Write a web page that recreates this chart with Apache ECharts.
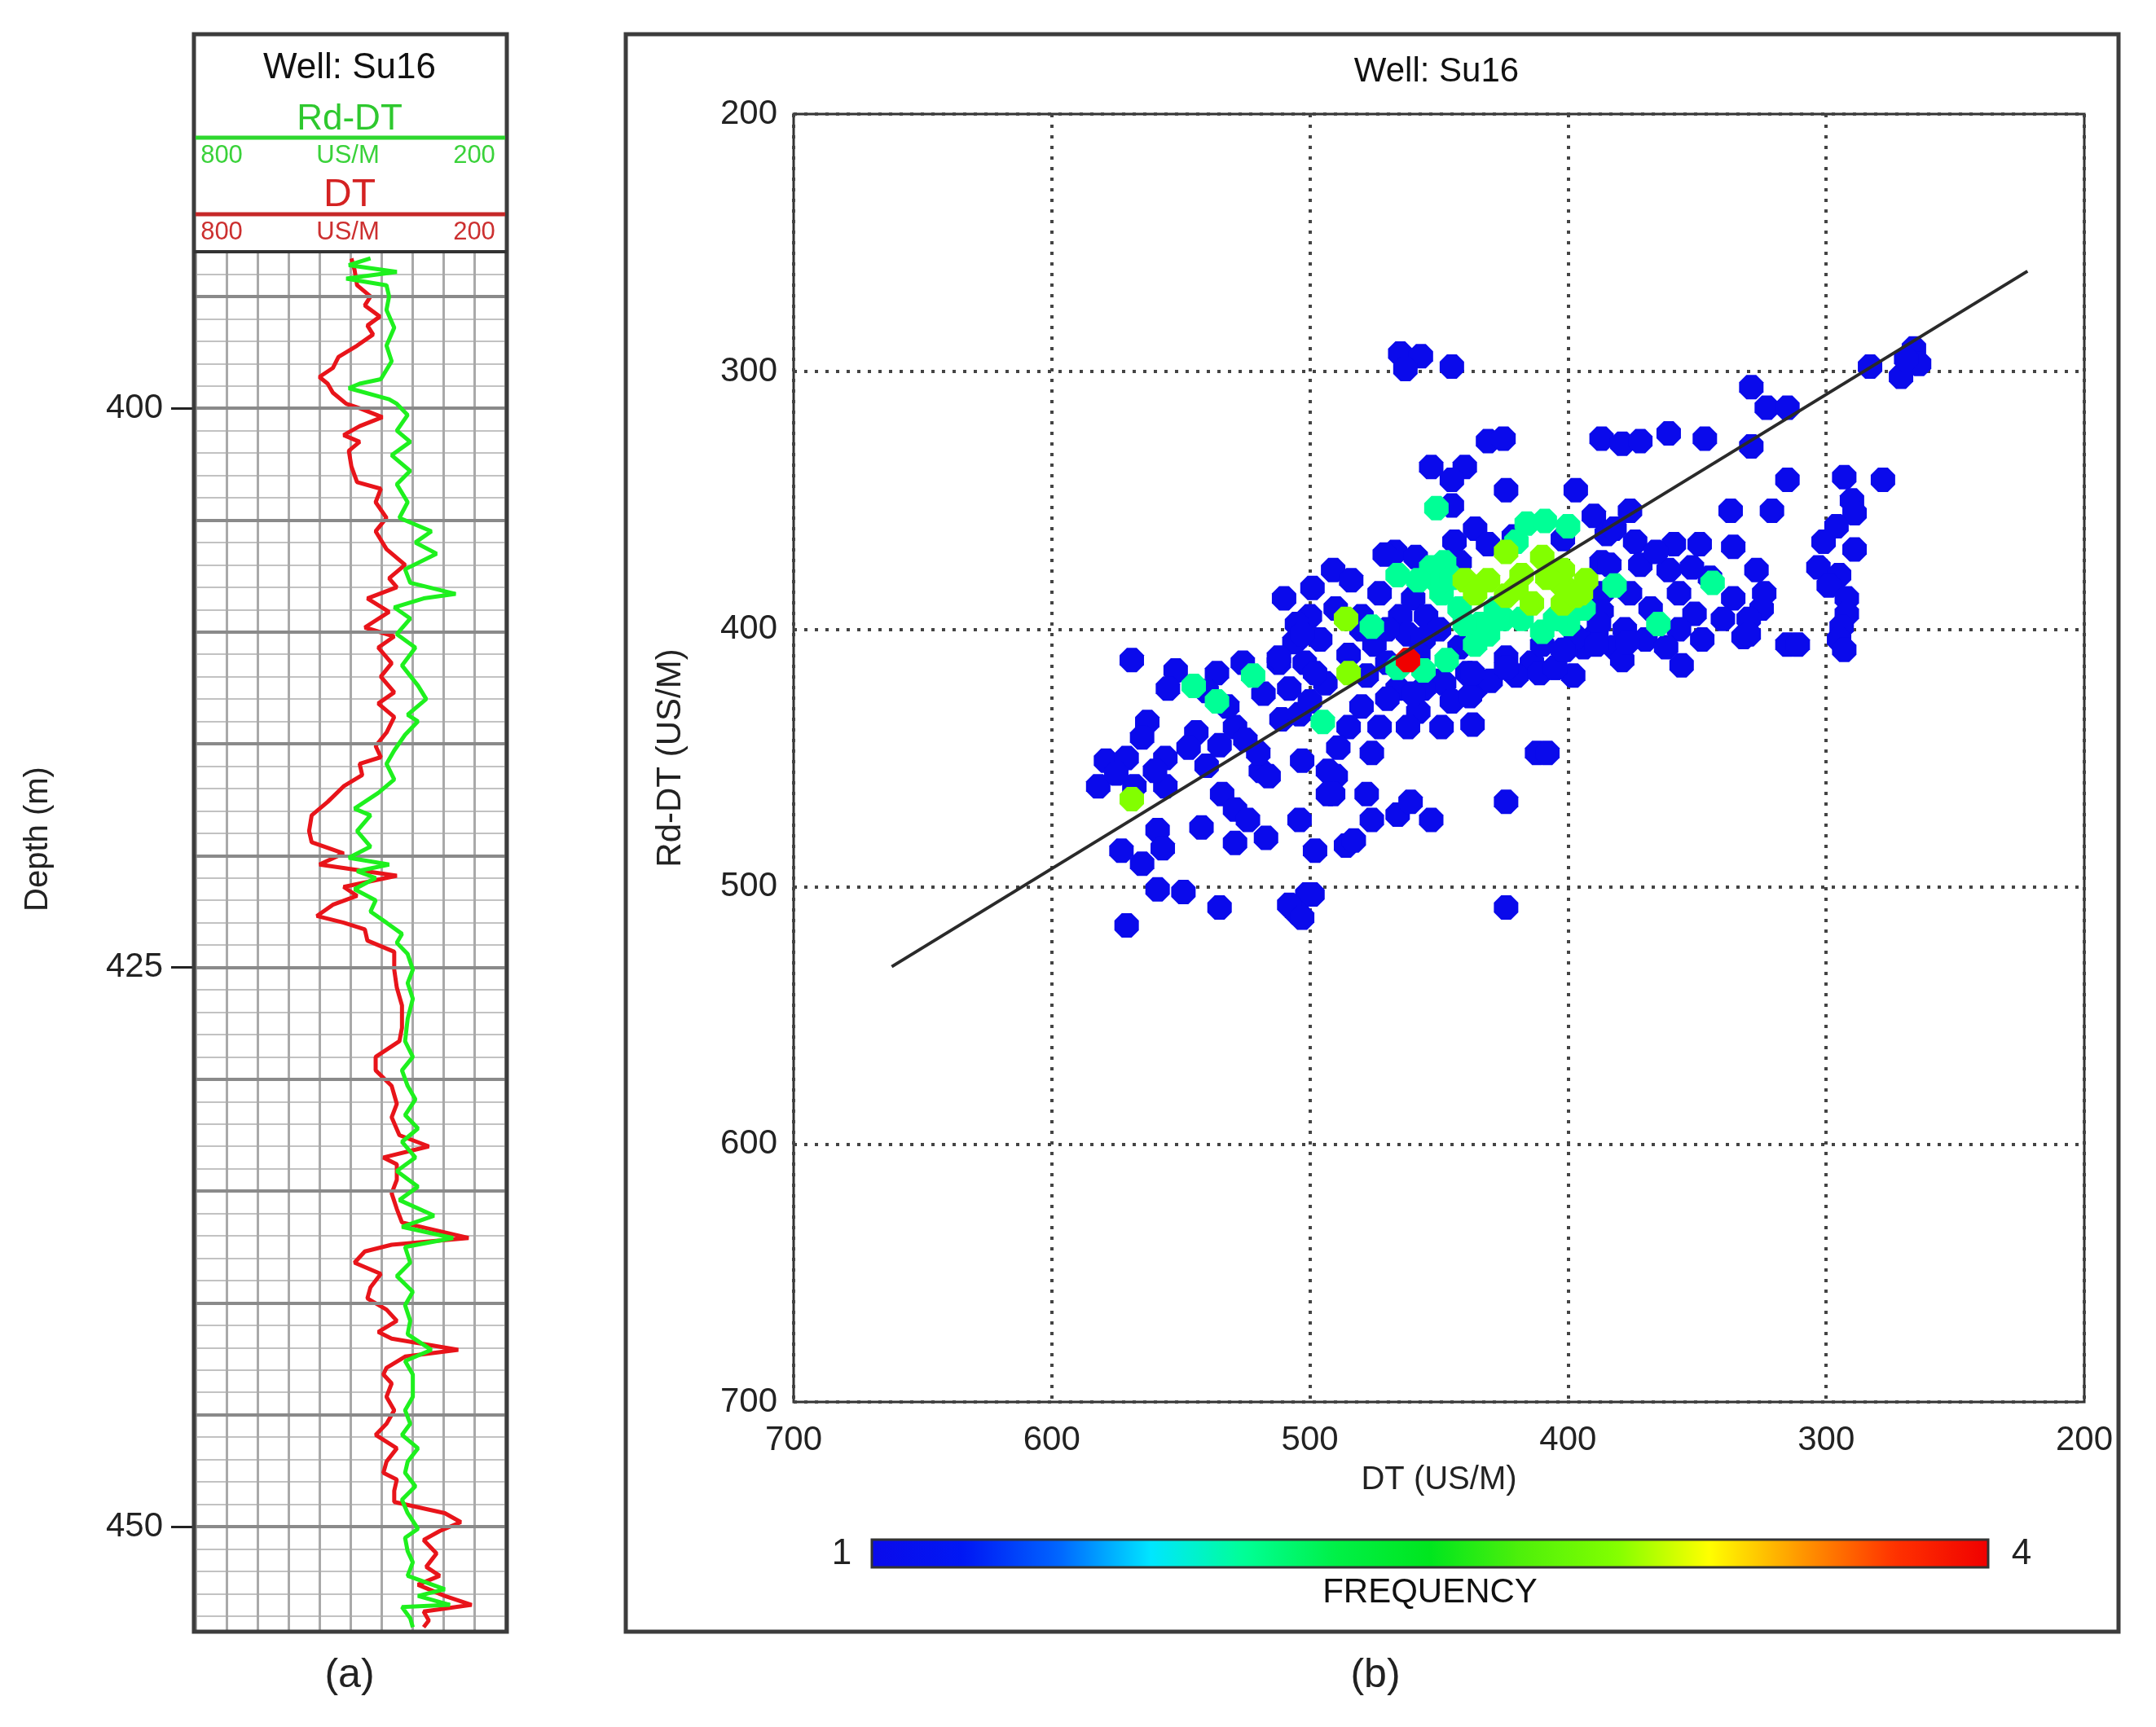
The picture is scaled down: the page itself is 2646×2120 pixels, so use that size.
<!DOCTYPE html>
<html>
<head>
<meta charset="utf-8">
<title>Well Su16 - DT vs Rd-DT</title>
<script src="https://cdn.jsdelivr.net/npm/echarts@6/dist/echarts.min.js"></script>
<style>
  html, body { margin: 0; padding: 0; background: #fff; }
  #main { width: 2646px; height: 2120px; }
</style>
</head>
<body>
<div id="main"></div>
<script>
// ---- (a) log track: depth (m) and slowness (US/M) ----
var dtDepth = [393.3,393.8,394.5,395.0,395.4,395.9,396.3,396.7,397.2,397.7,
  398.2,398.6,398.9,399.3,399.8,400.0,400.4,400.8,401.2,401.5,
  401.9,402.6,403.3,403.6,404.2,404.9,405.5,406.3,407.0,407.6,
  408.0,408.5,409.1,409.8,410.2,410.7,411.4,412.0,412.7,413.2,
  413.8,414.5,415.1,415.6,415.9,416.4,416.9,417.6,418.2,418.9,
  419.4,419.9,420.4,420.9,421.4,421.8,422.2,422.7,423.0,423.3,
  423.8,424.3,425.1,425.9,426.7,427.7,428.3,429.0,429.6,430.3,
  431.1,431.7,432.5,433.0,433.5,433.8,434.5,435.1,435.8,436.4,
  437.1,437.4,437.7,438.2,438.7,439.3,439.8,440.3,440.8,441.3,
  441.6,442.1,442.4,442.9,443.2,443.6,444.2,444.8,445.4,445.9,
  446.5,447.1,447.6,447.9,448.4,448.9,449.4,449.8,450.2,450.6,
  451.2,451.8,452.2,452.6,453.1,453.5,453.8,454.2,454.5];
var dtValue = [498,492,487,461,472,443,467,456,487,523,
  534,560,544,534,508,482,438,482,513,482,
  503,498,487,441,451,430,451,430,394,425,
  410,467,425,472,415,446,420,441,415,446,
  415,430,451,441,482,477,513,544,575,580,
  575,513,560,410,513,487,534,565,513,472,
  467,415,415,410,400,400,405,451,451,420,
  410,420,405,348,436,410,410,420,410,400,
  271,420,472,492,441,461,467,430,410,446,
  420,291,394,430,436,420,430,415,430,451,
  410,430,436,410,415,415,317,286,327,358,
  333,353,327,369,317,265,358,348,358];

var rdDepth = [393.3,393.6,393.9,394.2,394.5,395.0,395.6,396.4,397.2,397.9,
  398.7,398.9,399.1,399.6,399.8,400.3,401.0,401.5,402.1,402.8,
  403.4,404.2,404.9,405.5,406.0,406.5,407.2,407.8,408.3,408.5,
  408.9,409.4,410.1,410.7,411.5,412.4,413.0,413.7,414.0,414.6,
  415.3,415.9,416.6,417.2,417.9,418.2,418.9,419.6,420.1,420.4,
  420.7,421.0,421.5,422.0,422.5,423.0,423.5,423.9,424.4,425.1,
  425.7,426.4,427.3,428.3,429.0,429.6,430.3,430.9,431.6,432.2,
  432.8,433.5,434.1,434.8,435.4,436.1,436.6,437.1,437.5,438.2,
  438.8,439.5,440.1,440.8,441.4,442.1,442.6,443.2,444.2,444.8,
  445.4,445.9,446.5,447.1,447.6,448.2,448.8,449.4,450.1,450.5,
  451.1,451.6,452.2,452.8,453.1,453.5,453.6,454.1,454.5];
var rdValue = [461,503,410,508,430,425,430,415,430,420,
  441,482,503,425,410,389,410,384,420,384,
  410,389,405,343,374,333,394,384,296,358,
  415,384,410,374,400,369,353,389,369,394,
  415,430,415,446,492,461,487,461,503,425,
  487,451,492,451,461,430,400,410,389,379,
  389,379,389,394,379,400,389,374,394,369,
  400,374,410,369,405,338,400,301,394,384,
  410,379,394,384,389,343,394,379,379,394,
  384,400,369,389,394,374,400,389,369,394,
  389,379,389,317,369,307,400,384,379];

var depthLabels = [400, 425, 450];
var depthMajor = [395, 400, 405, 410, 415, 420, 425, 430, 435, 440, 445, 450];

// ---- (b) crossplot: [DT, Rd-DT] grouped by frequency ----
var freq1 = [
  [465,293],[457,294],[463,299],[445,298],[431,327],[425,326],[453,337],[440,337],[445,342],
  [424,346],[397,346],[445,352],[390,356],[385,363],
  [436,361],[444,366],[431,367],[442,374],[421,364],[402,365],[387,374],[387,386],
  [467,370],[459,372],[471,371],[510,388],[491,377],[484,381],[499,384],[473,386],[460,388],
  [480,395],[490,392],[465,395],[455,395],[450,400],[462,402],[485,410],[478,418],[466,423],[452,420],[506,405],[500,395],
  [505,398],[496,404],[502,413],[512,413],[475,406],[470,413],[456,404],[494,421],[442,407],[439,417],[436,423],[448,421],[456,423],
  [424,411],[414,413],[405,415],[394,407],[389,402],[410,406],[420,418],[398,418],[430,420],
  [480,400],[470,400],[458,410],[480,430],[485,438],[458,432],[445,428],
  [470,427],[460,425],[449,438],[437,437],[462,438],[473,438],[438,426],[412,448],[489,446],[476,448],[490,457],[491,464],
  [478,464],[476,474],[466,472],[461,467],[453,474],[424,467],[498,486],[486,484],[483,482],[424,508],[501,503],[505,510],
  [437,417],[424,415],[411,417],[401,408],
  [266,291],[264,297],[271,302],[283,298],[269,295],[329,306],[323,314],[315,314],[387,326],[379,328],[372,327],[361,324],
  [347,326],[329,329],[315,342],[293,341],[278,342],[376,354],[337,354],[321,354],
  [290,350],[289,355],[296,360],[301,366],[289,369],[303,376],[295,379],[299,383],[292,388],[292,394],[294,399],[295,404],
  [382,361],[374,366],[359,367],[349,367],[336,368],[384,375],[372,375],[361,377],[327,377],[324,386],[325,392],[336,388],
  [387,393],[376,386],[357,386],[351,394],[378,400],[357,400],[348,404],[332,403],[315,406],[397,403],[382,407],
  [366,370],[345,380],[352,376],[368,392],[340,396],[330,396],[392,385],[388,398],[370,404],[362,407],
  [405,415],[402,408],[389,406],[379,412],[377,405],[356,414],[330,402],[311,406],[293,408],[408,448],
  [569,412],[552,416],[536,417],[526,413],[512,411],[503,402],[498,417],[563,436],[565,442],[544,440],[529,438],[525,443],
  [511,435],[504,433],[540,453],[519,455],[516,457],[579,451],[571,450],[556,450],[582,461],[568,461],[556,461],[503,451],
  [493,455],[493,464],[534,464],[529,470],[524,474],[542,477],[529,483],[517,481],[504,474],[559,478],[557,485],[573,486],
  [565,491],[559,501],[549,502],[535,508],[571,515],[508,507],[503,512],[499,503],
  [575,456],[560,455],[547,446],[535,445],[520,448],[532,430],[518,425],[508,423],[540,424],[555,423],[500,428]
];
var freq2 = [
  [451,353],[416,359],[409,358],[400,360],[453,376],[448,374],[449,386],[442,392],[425,396],[410,401],
  [400,398],[394,392],[436,406],[431,402],[466,379],[476,399],[466,415],[456,416],[447,412],[434,398],
  [382,383],[344,382],[365,398],[522,418],[545,422],[536,428],[495,436],[450,382],
  [440,398],[428,392],[418,396],[405,396],[420,366],[445,380],[458,381]
];
var freq3 = [
  [424,370],[410,372],[440,381],[431,381],[418,379],[402,383],[393,381],[414,390],[402,390],[486,396],
  [485,417],[569,466],[402,377],[397,387],[424,387],[436,386],[420,384],[408,380],[395,386]
];
var freq4 = [[462,412]];

var fitDT = [662, 222];
var fitRD = [531, 261];

var jetColors = ['#0a0aeb','#0018f4','#0064ff','#00e6ff','#00ff96','#00f046','#00e61e',
                 '#50f00a','#82ff00','#ffff00','#ff9600','#ff3200','#f00000'];

var FONT = '"Liberation Sans", Arial, Helvetica, sans-serif';
var octagon = 'path://M30,0L70,0L100,30L100,70L70,100L30,100L0,70L0,30Z';

function pairs(xs, ys) {
  return xs.map(function (x, i) { return [x, ys[i]]; });
}
function withFreq(list, f) {
  return list.map(function (p) { return [p[0], p[1], f]; });
}
function scatterSeries(list, f) {
  return {
    type: 'scatter', xAxisIndex: 2, yAxisIndex: 2,
    symbol: octagon, symbolSize: 30,
    data: withFreq(list, f),
    itemStyle: { opacity: 1 },
    silent: true, z: 3 + f
  };
}
function txt(x, y, s, size, color, rot) {
  return {
    type: 'text', x: x, y: y, z: 50, rotation: rot || 0,
    style: { text: s, fontSize: size, fontFamily: FONT, fill: color, align: 'center', verticalAlign: 'middle' }
  };
}

var chart = echarts.init(document.getElementById('main'));

var option = {
  backgroundColor: '#ffffff',
  animation: false,
  textStyle: { fontFamily: FONT },
  grid: [
    { left: 240, top: 309, width: 380, height: 1694 },
    { left: 974, top: 140, width: 1584, height: 1581, show: true, borderColor: '#333', borderWidth: 3 }
  ],
  xAxis: [
    { gridIndex: 0, type: 'value', min: 200, max: 800, inverse: true,
      axisLine: { show: false }, axisTick: { show: false }, axisLabel: { show: false }, splitLine: { show: false } },
    { gridIndex: 0, type: 'value', min: 0, max: 10, interval: 1,
      axisLine: { show: false }, axisTick: { show: false }, axisLabel: { show: false },
      splitLine: { show: true, lineStyle: { color: '#a9a9a9', width: 3 } } },
    { gridIndex: 1, type: 'value', min: 200, max: 700, interval: 100, inverse: true,
      axisLine: { show: false }, axisTick: { show: false },
      axisLabel: { fontSize: 42, color: '#222', margin: 26, fontFamily: FONT },
      splitLine: { show: true, lineStyle: { color: '#444', width: 4, type: [4, 9] } },
      name: 'DT (US/M)', nameLocation: 'middle', nameGap: 76,
      nameTextStyle: { fontSize: 40, color: '#222', fontFamily: FONT } }
  ],
  yAxis: [
    { gridIndex: 0, type: 'value', min: 393, max: 454.7, interval: 1, inverse: true, position: 'left',
      axisLine: { show: false }, axisTick: { show: false }, axisLabel: { show: false },
      splitLine: { show: true, lineStyle: { color: '#c2c2c2', width: 2 } } },
    { gridIndex: 0, type: 'value', min: 393, max: 454.7, interval: 1, inverse: true, position: 'left',
      axisLine: { show: false },
      axisTick: { show: true, customValues: depthLabels, length: 30, lineStyle: { color: '#222', width: 3 } },
      axisLabel: { customValues: depthLabels, fontSize: 42, color: '#222', margin: 40, fontFamily: FONT,
        formatter: function (v) { return v % 25 === 0 ? String(v) : ''; } },
      splitLine: { show: false } },
    { gridIndex: 1, type: 'value', min: 200, max: 700, interval: 100, inverse: true,
      axisLine: { show: false }, axisTick: { show: false },
      axisLabel: { fontSize: 42, color: '#222', margin: 20, fontFamily: FONT },
      splitLine: { show: true, lineStyle: { color: '#444', width: 4, type: [4, 9] } },
      name: 'Rd-DT (US/M)', nameLocation: 'middle', nameGap: 130, nameRotate: 90,
      nameTextStyle: { fontSize: 42, color: '#222', fontFamily: FONT } }
  ],
  visualMap: {
    type: 'continuous', min: 1, max: 4, dimension: 2, seriesIndex: [3, 4, 5, 6],
    orient: 'horizontal', left: 1070, top: 1890, padding: 0,
    itemWidth: 34, itemHeight: 1370, calculable: false, hoverLink: false,
    text: null, showLabel: false,
    inRange: { color: jetColors }
  },
  series: [
    { name: 'DT', type: 'line', xAxisIndex: 0, yAxisIndex: 0, data: pairs(dtValue, dtDepth),
      symbol: 'none', lineStyle: { color: '#e8141a', width: 5 }, z: 4, silent: true },
    { name: 'Rd-DT', type: 'line', xAxisIndex: 0, yAxisIndex: 0, data: pairs(rdValue, rdDepth),
      symbol: 'none', lineStyle: { color: '#1ef01e', width: 5 }, z: 5, silent: true },
    { name: 'depth grid', type: 'line', xAxisIndex: 0, yAxisIndex: 0, data: [], silent: true, z: 1,
      markLine: { symbol: ['none', 'none'], silent: true, animation: false, label: { show: false },
        lineStyle: { color: '#8a8a8a', width: 4, type: 'solid' },
        data: depthMajor.map(function (d) { return { yAxis: d }; }) } },
    scatterSeries(freq1, 1),
    scatterSeries(freq2, 2),
    scatterSeries(freq3, 3),
    scatterSeries(freq4, 4),
    { name: 'fit', type: 'line', xAxisIndex: 2, yAxisIndex: 2, data: pairs(fitDT, fitRD),
      symbol: 'none', lineStyle: { color: '#2a2a2a', width: 4 }, z: 10, silent: true }
  ],
  graphic: [
    // panel outlines
    { type: 'rect', z: 40, shape: { x: 238, y: 42, width: 384, height: 1961 },
      style: { fill: null, stroke: '#3c3c3c', lineWidth: 5 } },
    { type: 'rect', z: 40, shape: { x: 768, y: 42, width: 1832, height: 1961 },
      style: { fill: null, stroke: '#3c3c3c', lineWidth: 5 } },
    // log header
    { type: 'line', z: 40, shape: { x1: 238, y1: 309, x2: 622, y2: 309 }, style: { stroke: '#333', lineWidth: 4 } },
    { type: 'line', z: 40, shape: { x1: 240, y1: 169, x2: 620, y2: 169 }, style: { stroke: '#2ed82e', lineWidth: 5 } },
    { type: 'line', z: 40, shape: { x1: 240, y1: 263, x2: 620, y2: 263 }, style: { stroke: '#c62828', lineWidth: 5 } },
    txt(429, 84, 'Well: Su16', 44, '#111'),
    txt(429, 147, 'Rd-DT', 44, '#2ec82e'),
    txt(272, 191, '800', 31, '#3ad23a'),
    txt(427, 191, 'US/M', 31, '#3ad23a'),
    txt(582, 191, '200', 31, '#3ad23a'),
    txt(429, 240, 'DT', 48, '#d42222'),
    txt(272, 285, '800', 31, '#cc3030'),
    txt(427, 285, 'US/M', 31, '#cc3030'),
    txt(582, 285, '200', 31, '#cc3030'),
    txt(47, 1030, 'Depth (m)', 40, '#222', Math.PI / 2),
    // crossplot title and colour bar
    txt(1763, 88, 'Well: Su16', 42, '#111'),
    { type: 'rect', z: 40, shape: { x: 1070, y: 1890, width: 1370, height: 34 },
      style: { fill: null, stroke: '#333', lineWidth: 3 } },
    txt(1033, 1908, '1', 44, '#222'),
    txt(2481, 1908, '4', 44, '#222'),
    txt(1755, 1955, 'FREQUENCY', 42, '#111'),
    // panel captions
    txt(429, 2057, '(a)', 50, '#222'),
    txt(1688, 2057, '(b)', 50, '#222')
  ]
};

chart.setOption(option);
</script>
</body>
</html>
